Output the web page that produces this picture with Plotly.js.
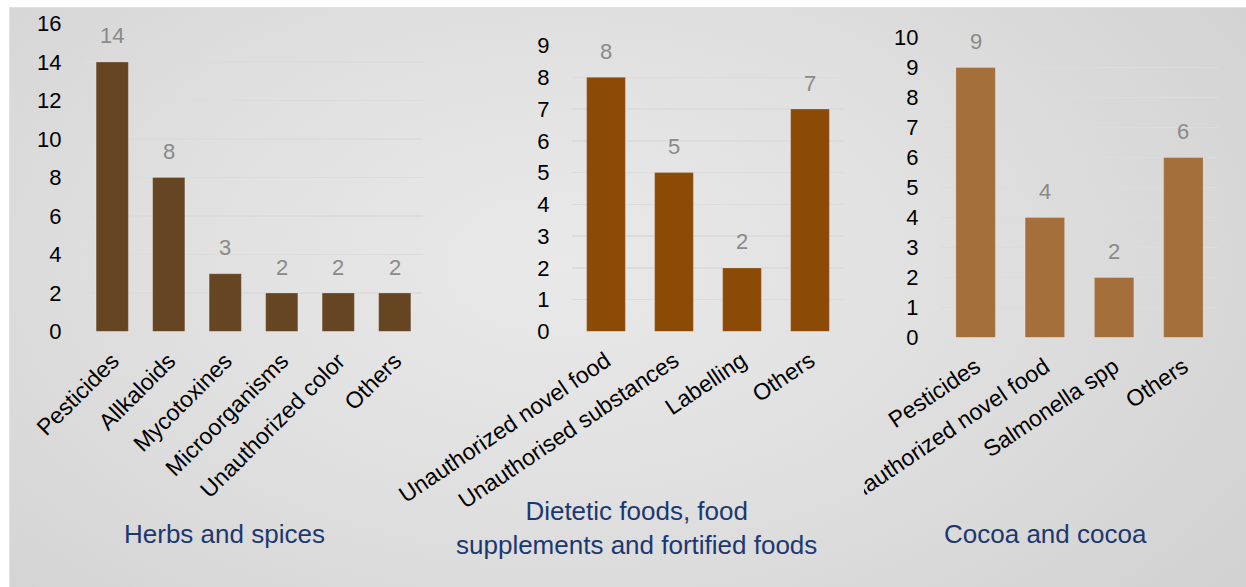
<!DOCTYPE html>
<html>
<head>
<meta charset="utf-8">
<script src="https://cdn.plot.ly/plotly-3.0.1.min.js"></script>
<style>
  html, body { margin: 0; padding: 0; background: #ffffff; overflow: hidden; }
  #wrap { position: relative; width: 1246px; height: 587px; overflow: hidden; background: #ffffff; }
  .bg { background-image: radial-gradient(ellipse 70% 90% at 45% 45%, #e9e9e9 0%, #e0e0e0 45%, #d1d1d1 100%);
        background-attachment: fixed; background-size: 1246px 587px; background-repeat: no-repeat; }
  #panel { position: absolute; left: 9px; top: 7px; right: 0; bottom: 0;
    border-top: 1px solid #e2e2e2; border-left: 1px solid #e2e2e2; }
  #chart { position: absolute; left: 0; top: 0; width: 1246px; height: 587px; }
  #clip { position: absolute; left: 832px; top: 400px; width: 32px; height: 125px; }
</style>
</head>
<body>
<div id="wrap"><div id="panel" class="bg"></div><div id="chart"></div><div id="clip" class="bg"></div></div>
<script>
// ---- data ----
const herbsCategories = ["Pesticides", "Allkaloids", "Mycotoxines", "Microorganisms", "Unauthorized color", "Others"];
const herbsValues = [14, 8, 3, 2, 2, 2];
const herbsTicks = [0, 2, 4, 6, 8, 10, 12, 14, 16];

const dieteticCategories = ["Unauthorized novel food", "Unauthorised substances", "Labelling", "Others"];
const dieteticValues = [8, 5, 2, 7];
const dieteticTicks = [0, 1, 2, 3, 4, 5, 6, 7, 8, 9];

const cocoaCategories = ["Pesticides", "Unauthorized novel food", "Salmonella spp", "Others"];
const cocoaValues = [9, 4, 2, 6];
const cocoaTicks = [0, 1, 2, 3, 4, 5, 6, 7, 8, 9, 10];

const groupTitles = ["Herbs and spices", "Dietetic foods, food<br>supplements and fortified foods", "Cocoa and cocoa"];

// ---- styles ----
const FONT = "Liberation Sans, Arial, sans-serif";
const colors = ["#664523", "#8c4a07", "#a46f3b"];
const W = 1246, H = 587;

const groups = [
  {cats: herbsCategories, vals: herbsValues, ticks: herbsTicks, x: [84, 423], y0: 331.5, y1: 23.5, angle: -45},
  {cats: dieteticCategories, vals: dieteticValues, ticks: dieteticTicks, x: [572, 844], y0: 331.5, y1: 45.5, angle: -34},
  {cats: cocoaCategories, vals: cocoaValues, ticks: cocoaTicks, x: [941, 1218], y0: 337.5, y1: 37.5, angle: -34}
];
const titlePos = [[224.5, 534], [636.5, 528], [1045, 534]];

const traces = [];
const layout = {
  width: W, height: H,
  margin: {l: 0, r: 0, t: 0, b: 0},
  paper_bgcolor: "rgba(0,0,0,0)",
  plot_bgcolor: "rgba(0,0,0,0)",
  showlegend: false,
  bargap: 0.43,
  font: {family: FONT, size: 22, color: "#000"},
  annotations: []
};

groups.forEach((g, i) => {
  const n = i === 0 ? "" : String(i + 1);
  const xa = "x" + n, ya = "y" + n;
  traces.push({
    type: "bar", x: g.cats, y: g.vals, xaxis: xa, yaxis: ya,
    marker: {color: colors[i], line: {color: "rgba(255,255,255,0.22)", width: 1}},
    hoverinfo: "x+y"
  });
  const top = g.ticks[g.ticks.length - 1];
  layout["xaxis" + n] = {
    domain: [g.x[0] / W, g.x[1] / W], anchor: ya,
    type: "category", tickangle: g.angle,
    showgrid: false, zeroline: false, showline: false,
    ticks: "outside", ticklen: 6, tickcolor: "rgba(0,0,0,0)",
    tickfont: {family: FONT, size: 23, color: "#000"}
  };
  layout["yaxis" + n] = {
    domain: [1 - g.y0 / H, 1 - g.y1 / H], anchor: xa,
    range: [0, top], tickvals: g.ticks, ticktext: g.ticks.map(String),
    showgrid: true, gridcolor: "#dcdcdc", gridwidth: 1.5,
    zeroline: false, showline: false,
    ticks: "outside", ticklen: 17, tickcolor: "rgba(0,0,0,0)",
    tickfont: {family: FONT, size: 22, color: "#000"}
  };
  g.cats.forEach((c, k) => {
    layout.annotations.push({
      xref: xa, yref: ya, x: c, y: g.vals[k], text: String(g.vals[k]),
      showarrow: false, yanchor: "middle", yshift: 26,
      font: {family: FONT, size: 22, color: "#8a8a8a"}
    });
  });
  layout.annotations.push({
    xref: "paper", yref: "paper", x: titlePos[i][0] / W, y: 1 - titlePos[i][1] / H,
    xanchor: "center", yanchor: "middle", showarrow: false, align: "center",
    text: groupTitles[i],
    font: {family: FONT, size: 26, color: "#1c3870"}
  });
});

Plotly.newPlot("chart", traces, layout, {displayModeBar: false, staticPlot: true});
</script>
</body>
</html>
